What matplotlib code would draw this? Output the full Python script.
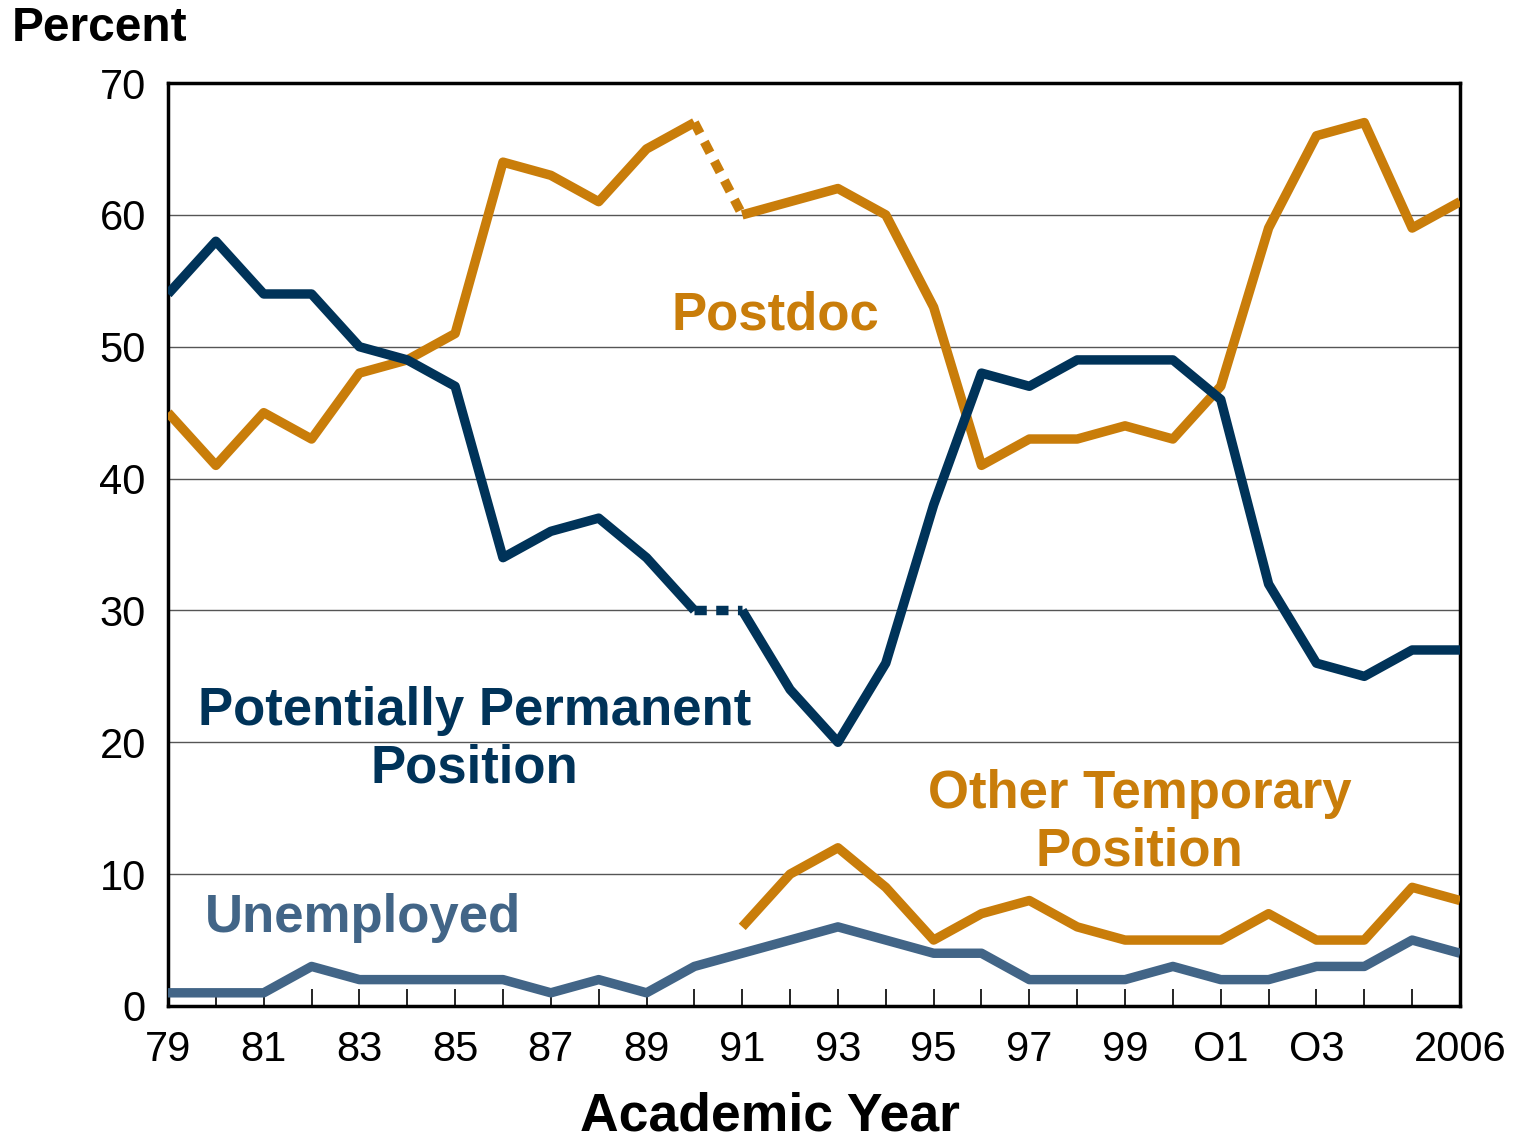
import numpy as np
import matplotlib.pyplot as plt

plt.rcParams['font.family'] = ['Liberation Sans', 'DejaVu Sans']

years = list(range(1979, 2007))
postdoc = [45, 41, 45, 43, 48, 49, 51, 64, 63, 61, 65, 67,
           60, 61, 62, 60, 53, 41, 43, 43, 44, 43, 47, 59, 66, 67, 59, 61]
permanent = [54, 58, 54, 54, 50, 49, 47, 34, 36, 37, 34, 30,
             30, 24, 20, 26, 38, 48, 47, 49, 49, 49, 46, 32, 26, 25, 27, 27]
other_years = list(range(1991, 2007))
other_temp = [6, 10, 12, 9, 5, 7, 8, 6, 5, 5, 5, 7, 5, 5, 9, 8]
unemployed = [1, 1, 1, 3, 2, 2, 2, 2, 1, 2, 1, 3,
              4, 5, 6, 5, 4, 4, 2, 2, 2, 3, 2, 2, 3, 3, 5, 4]
tick_years = [1979, 1981, 1983, 1985, 1987, 1989, 1991, 1993, 1995, 1997,
              1999, 2001, 2003, 2006]
tick_labels = ['79', '81', '83', '85', '87', '89', '91', '93', '95', '97',
               '99', 'O1', 'O3', '2006']

gold = '#C97D0A'
navy = '#003359'
slate = '#426587'
lw = 6.8

fig = plt.figure(figsize=(15.15, 11.42), dpi=100)
ax = fig.add_axes([0.1109, 0.1191, 0.8528, 0.8082])

# 1990 -> 1991 drawn dotted (break in series)
b = years.index(1990)
for series, c in ((postdoc, gold), (permanent, navy)):
    ax.plot(years[:b + 1], series[:b + 1], color=c, lw=lw, solid_capstyle='butt', zorder=3)
    ax.plot(years[b + 1:], series[b + 1:], color=c, lw=lw, solid_capstyle='butt', zorder=3)
    ax.plot(years[b:b + 2], series[b:b + 2], color=c, lw=lw, ls=(0, (1.3, 1.0)), zorder=3)
ax.plot(other_years, other_temp, color=gold, lw=lw, solid_capstyle='butt', zorder=3)
ax.plot(years, unemployed, color=slate, lw=lw, solid_capstyle='butt', zorder=3)

ax.set_xlim(1979, 2006)
ax.set_ylim(0, 70)
ax.set_yticks(range(0, 71, 10))
labels = [tick_labels[tick_years.index(y)] if y in tick_years else '' for y in years]
ax.set_xticks(years)
ax.set_xticklabels(labels)
ax.tick_params(axis='x', direction='in', length=12, width=1.2, pad=17, labelsize=30)
ax.tick_params(axis='y', length=0, pad=16, labelsize=30)
ax.grid(axis='y', color='#555555', lw=1.0)
ax.set_axisbelow(True)
for s in ax.spines.values():
    s.set_linewidth(2.5)

ax.text(1991.7, 52.4, 'Postdoc', color=gold, fontsize=38, fontweight='bold', ha='center', va='center')
ax.text(1985.4, 20.2, 'Potentially Permanent\nPosition', color=navy, fontsize=38,
        fontweight='bold', ha='center', va='center', linespacing=1.2, multialignment='center')
ax.text(1999.3, 13.9, 'Other Temporary\nPosition', color=gold, fontsize=38,
        fontweight='bold', ha='center', va='center', linespacing=1.2, multialignment='center')
ax.text(1979.77, 6.7, 'Unemployed', color=slate, fontsize=38, fontweight='bold', ha='left', va='center')

fig.text(0.008, 0.975, 'Percent', fontsize=34.5, fontweight='bold', ha='left', va='center')
fig.text(0.508, 0.022, 'Academic Year', fontsize=38.5, fontweight='bold', ha='center', va='center')

fig.savefig('out.png', dpi=100)
